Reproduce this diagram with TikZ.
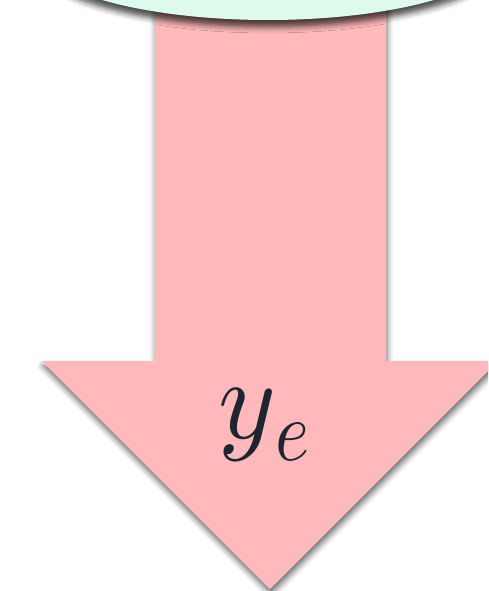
\documentclass[tikz,border=0pt]{standalone}
\usetikzlibrary{shadows.blur}
\definecolor{arrowpink}{RGB}{255,185,186}
\definecolor{mint}{RGB}{220,251,237}
\definecolor{inkc}{RGB}{27,38,49}
\newcommand\myyelabel{{\scalebox{11}[11.5]{$y$}\kern-1pt\raisebox{-22pt}{\scalebox{7.3}[8.6]{$e$}}}}
\begin{document}
\begin{tikzpicture}[x=1pt,y=-1pt,
  softshade/.style={blur shadow={shadow xshift=1pt, shadow yshift=-5pt, shadow blur radius=6pt, shadow opacity=60}},
  capshade/.style={blur shadow={shadow xshift=0pt, shadow yshift=-7pt, shadow blur radius=6pt, shadow opacity=70}},
  lbl/.style={text=inkc, inner sep=0pt, anchor=base west}]
\useasboundingbox (0,0) rectangle (488,591);
\clip (0,0) rectangle (488,591);
\fill[arrowpink, softshade] (155,-20) -- (386,-20) -- (386,361) -- (498,361) -- (270,589) -- (42,361) -- (155,361) -- cycle;
\fill[mint, capshade] (268,-52) ellipse [x radius=240, y radius=72];
\node[lbl] (ye) at (218,438) {\myyelabel};
\end{tikzpicture}
\end{document}
